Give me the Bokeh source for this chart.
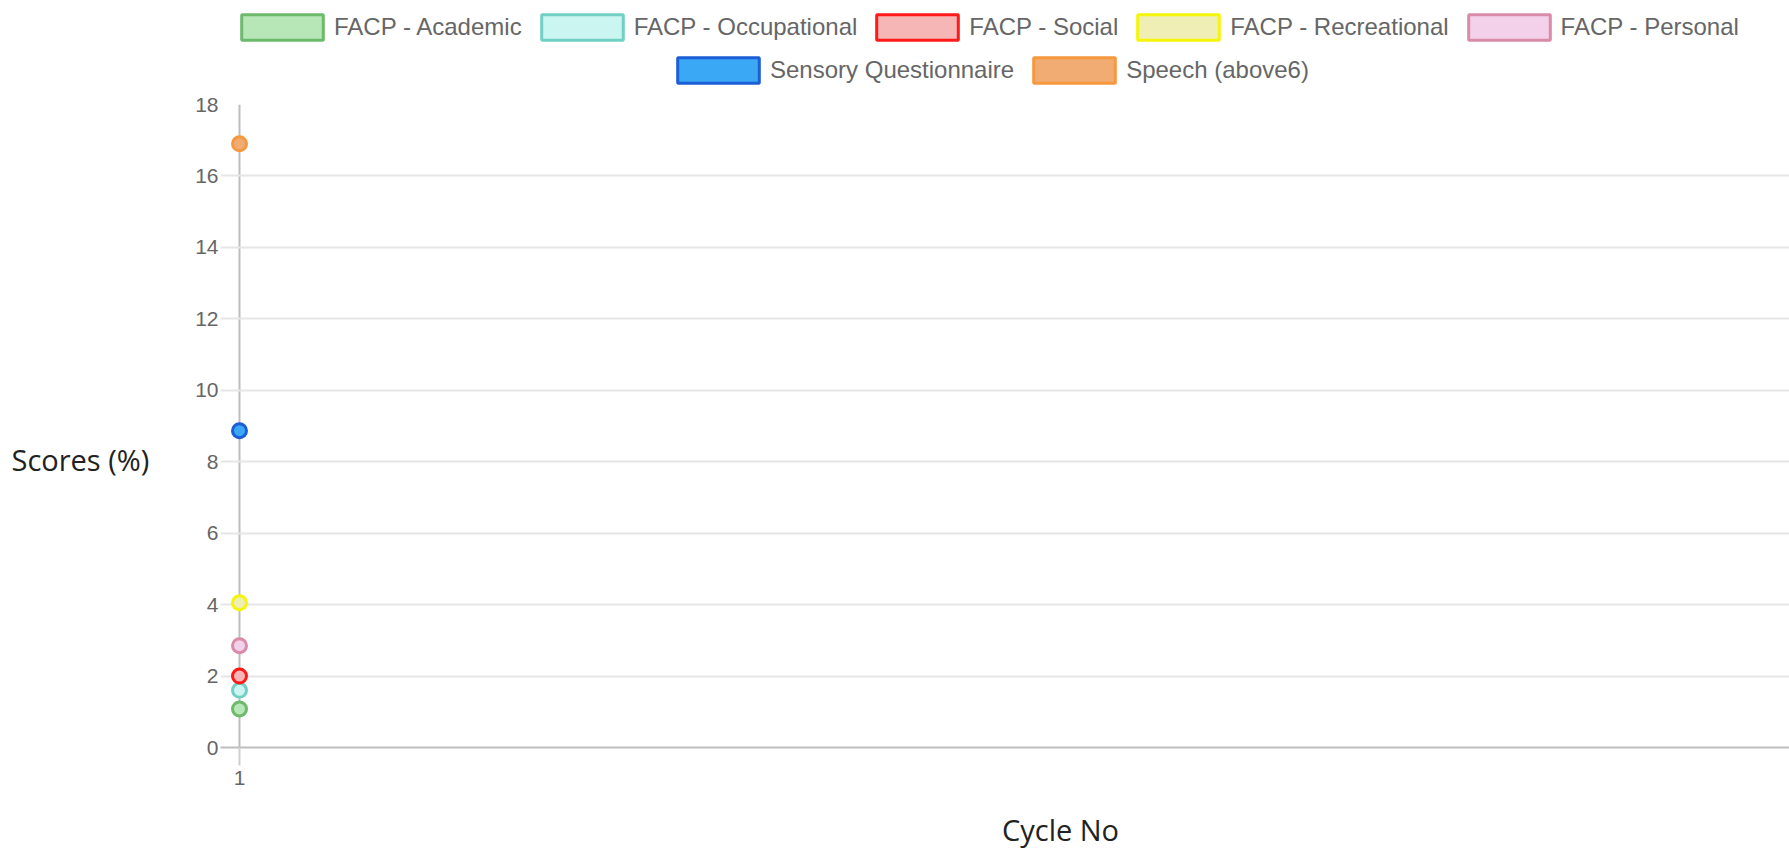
from bokeh.plotting import figure
from bokeh.models import Legend, LegendItem, Range1d, FixedTicker
from bokeh.core.properties import value
from bokeh.layouts import column, row
from bokeh.embed import file_html
from bokeh.resources import INLINE

# ---- data ----
cycles = [1]
series_names = ["FACP - Academic", "FACP - Occupational", "FACP - Social",
                "FACP - Recreational", "FACP - Personal",
                "Sensory Questionnaire", "Speech (above6)"]
academic = [1.08]
occupational = [1.6]
social = [2.0]
recreational = [4.05]
personal = [2.85]
sensory = [8.87]
speech = [16.9]
y_ticks = [0, 2, 4, 6, 8, 10, 12, 14, 16, 18]
x_ticks = [1]
x_title = ["Cycle No"]
y_title = ["Scores (%)"]

series_values = [academic, occupational, social, recreational, personal, sensory, speech]
fill_colors = ["#b7e6b7", "#cbf5f0", "#f7b6b6", "#efefb5", "#f4d1ea", "#3aa8f4", "#f0ac73"]
line_colors = ["#6cba6c", "#72cfc4", "#ff1a1a", "#f5f50a", "#d98ba8", "#1c5ed6", "#f5983e"]

NAN = float("nan")


def blank(width, height):
    # pixel-unit ranges so that text positions are given in pixels of this strip
    f = figure(width=width, height=height, output_backend="svg", toolbar_location=None,
               x_range=Range1d(0, width), y_range=Range1d(0, height),
               x_axis_location=None, y_axis_location=None,
               min_border=0)
    f.outline_line_color = None
    f.grid.visible = False
    return f


# ---- legend strip ----
leg_fig = blank(1789, 94)
proxies = []
for fc, lc in zip(fill_colors, line_colors):
    proxies.append(leg_fig.quad(left=[NAN], right=[NAN], top=[NAN], bottom=[NAN],
                                fill_color=fc, line_color=lc, line_width=3))


def make_legend(idx, loc):
    return Legend(items=[LegendItem(label=series_names[i], renderers=[proxies[i]]) for i in idx],
                  orientation="horizontal", location=loc,
                  glyph_width=102, glyph_height=32, label_standoff=1, spacing=9,
                  padding=0, margin=0, border_line_color=None, background_fill_alpha=0,
                  label_text_font="Liberation Sans", label_text_font_size="24px",
                  label_text_color="#666666", label_text_baseline="middle")


leg_fig.add_layout(make_legend([0, 1, 2, 3, 4], (231, 51)))
leg_fig.add_layout(make_legend([5, 6], (667, 8)))

# ---- y title strip ----
ylab_fig = blank(190, 703)
ylab_fig.text(x=[11], y=[315], text=y_title, text_font=value("Open Sans"),
              text_font_size="29px", text_color="#222222",
              text_align="left", text_baseline="alphabetic")

# ---- main plot ----
p = figure(width=1599, height=703, output_backend="svg", toolbar_location=None,
           x_range=Range1d(0.9, 9.158), y_range=Range1d(0, 18),
           min_border_left=30, min_border_right=0, min_border_top=10,
           min_border_bottom=50)
p.outline_line_color = None

p.xaxis.ticker = FixedTicker(ticks=x_ticks)
p.xaxis.axis_line_color = "#bdbdbd"
p.xaxis.axis_line_width = 2
p.xaxis.major_tick_out = 18
p.xaxis.major_tick_in = 0
p.xaxis.major_tick_line_color = "#cfcfcf"
p.xaxis.major_tick_line_width = 2
p.xaxis.minor_tick_line_color = None
p.xaxis.major_label_text_font = "Liberation Sans"
p.xaxis.major_label_text_font_size = "21px"
p.xaxis.major_label_text_color = "#666666"
p.xaxis.major_label_standoff = 5

p.yaxis.ticker = FixedTicker(ticks=y_ticks)
p.yaxis.axis_line_color = None
p.yaxis.major_tick_out = 0
p.yaxis.major_tick_in = 0
p.yaxis.minor_tick_line_color = None
p.yaxis.major_label_text_font = "Liberation Sans"
p.yaxis.major_label_text_font_size = "21px"
p.yaxis.major_label_text_color = "#666666"
p.yaxis.major_label_standoff = 2

p.xgrid.ticker = FixedTicker(ticks=x_ticks)
p.xgrid.grid_line_color = "#bdbdbd"
p.xgrid.grid_line_width = 2
p.ygrid.ticker = FixedTicker(ticks=y_ticks)
p.ygrid.grid_line_color = "#e6e6e6"
p.ygrid.grid_line_width = 2

for vals, fc, lc in zip(series_values, fill_colors, line_colors):
    p.scatter(x=cycles, y=vals, size=14, fill_color=fc, line_color=lc, line_width=3)

# ---- x title strip ----
xlab_fig = blank(1789, 52)
xlab_fig.text(x=[1060], y=[20], text=x_title, text_font=value("Open Sans"),
              text_font_size="29px", text_color="#222222",
              text_align="center", text_baseline="alphabetic")

layout = column(leg_fig, row(ylab_fig, p, spacing=0), xlab_fig, spacing=0)
open("out.html", "w").write(file_html(layout, INLINE))
